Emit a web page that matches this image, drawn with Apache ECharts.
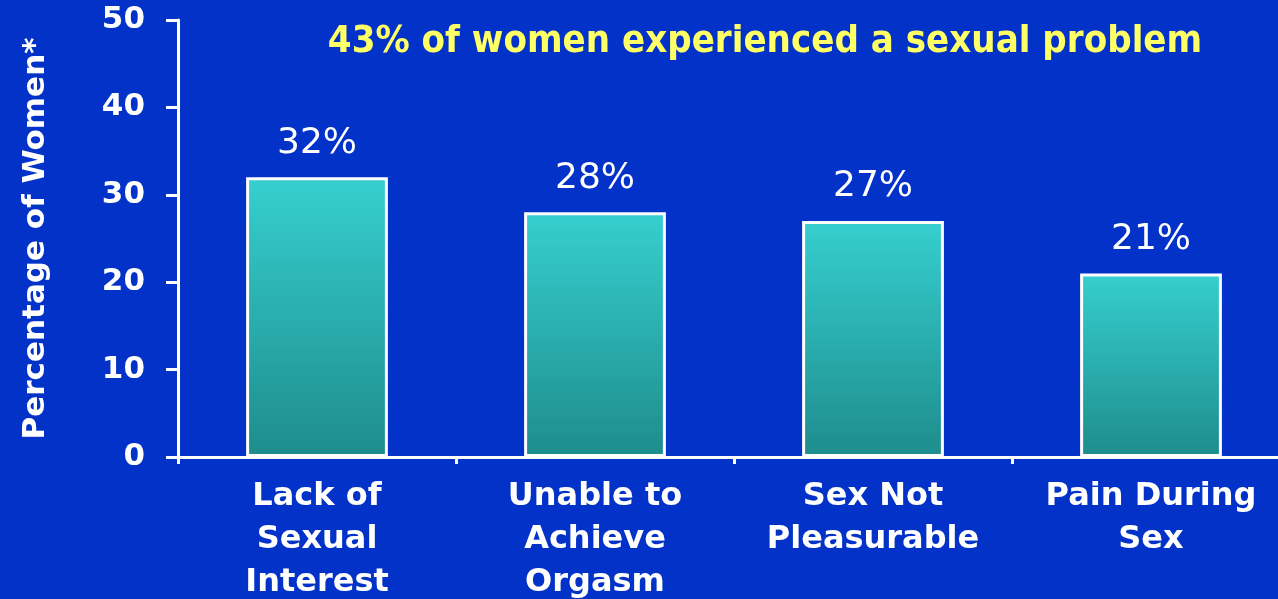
<!DOCTYPE html>
<html>
<head>
<meta charset="utf-8">
<script src="https://cdn.jsdelivr.net/npm/echarts@6/dist/echarts.min.js"></script>
<style>
  html, body {margin: 0; padding: 0; background: #0232c8;}
  #chartDiv {width: 1278px; height: 599px;}
</style>
</head>
<body>
<div id="chartDiv"></div>
<script>
// values
var categories = ['Lack of\nSexual\nInterest', 'Unable to\nAchieve\nOrgasm', 'Sex Not\nPleasurable', 'Pain During\nSex'];
var percents = [32, 28, 27, 21];
var titleText = '43% of women experienced a sexual problem';
var yName = 'Percentage of Women*';

var chart = echarts.init(document.getElementById('chartDiv'));
var option = {
    backgroundColor: '#0232c8',
    animation: false,
    title: {
        text: titleText,
        left: 760,
        textAlign: 'center',
        top: 18,
        textStyle: {color: '#ffff66', fontFamily: 'DejaVu Sans Condensed', fontWeight: 'bold', fontSize: 38}
    },
    grid: {left: 178, right: -12, top: 20, bottom: 142, outerBoundsMode: 'none'},
    xAxis: {
        type: 'category',
        data: categories,
        axisLine: {lineStyle: {color: '#ffffff', width: 3}},
        axisTick: {show: true, length: 7, lineStyle: {color: '#ffffff', width: 3}},
        axisLabel: {
            color: '#ffffff', fontFamily: 'DejaVu Sans', fontWeight: 'bold', fontSize: 32,
            lineHeight: 43, margin: 18, interval: 0
        }
    },
    yAxis: {
        type: 'value',
        min: 0,
        max: 50,
        interval: 10,
        name: yName,
        nameLocation: 'middle',
        nameGap: 127,
        nameTextStyle: {color: '#ffffff', fontFamily: 'DejaVu Sans', fontWeight: 'bold', fontSize: 31},
        splitLine: {show: false},
        axisLine: {show: true, lineStyle: {color: '#ffffff', width: 3}},
        axisTick: {show: true, length: 12, lineStyle: {color: '#ffffff', width: 3}},
        axisLabel: {color: '#ffffff', fontFamily: 'DejaVu Sans', fontWeight: 'bold', fontSize: 31, margin: 33}
    },
    series: [
        {
            type: 'bar',
            data: percents,
            barWidth: '51%',
            itemStyle: {
                borderColor: '#ffffff',
                borderWidth: 3,
                color: new echarts.graphic.LinearGradient(0, 0, 0, 1, [
                    {offset: 0, color: '#36cfcf'},
                    {offset: 1, color: '#1e8c8c'}
                ])
            },
            label: {
                show: true,
                position: 'top',
                distance: 16,
                formatter: '{c}%',
                color: '#ffffff',
                fontFamily: 'DejaVu Sans',
                fontSize: 36
            }
        }
    ]
};
chart.setOption(option);
</script>
</body>
</html>
